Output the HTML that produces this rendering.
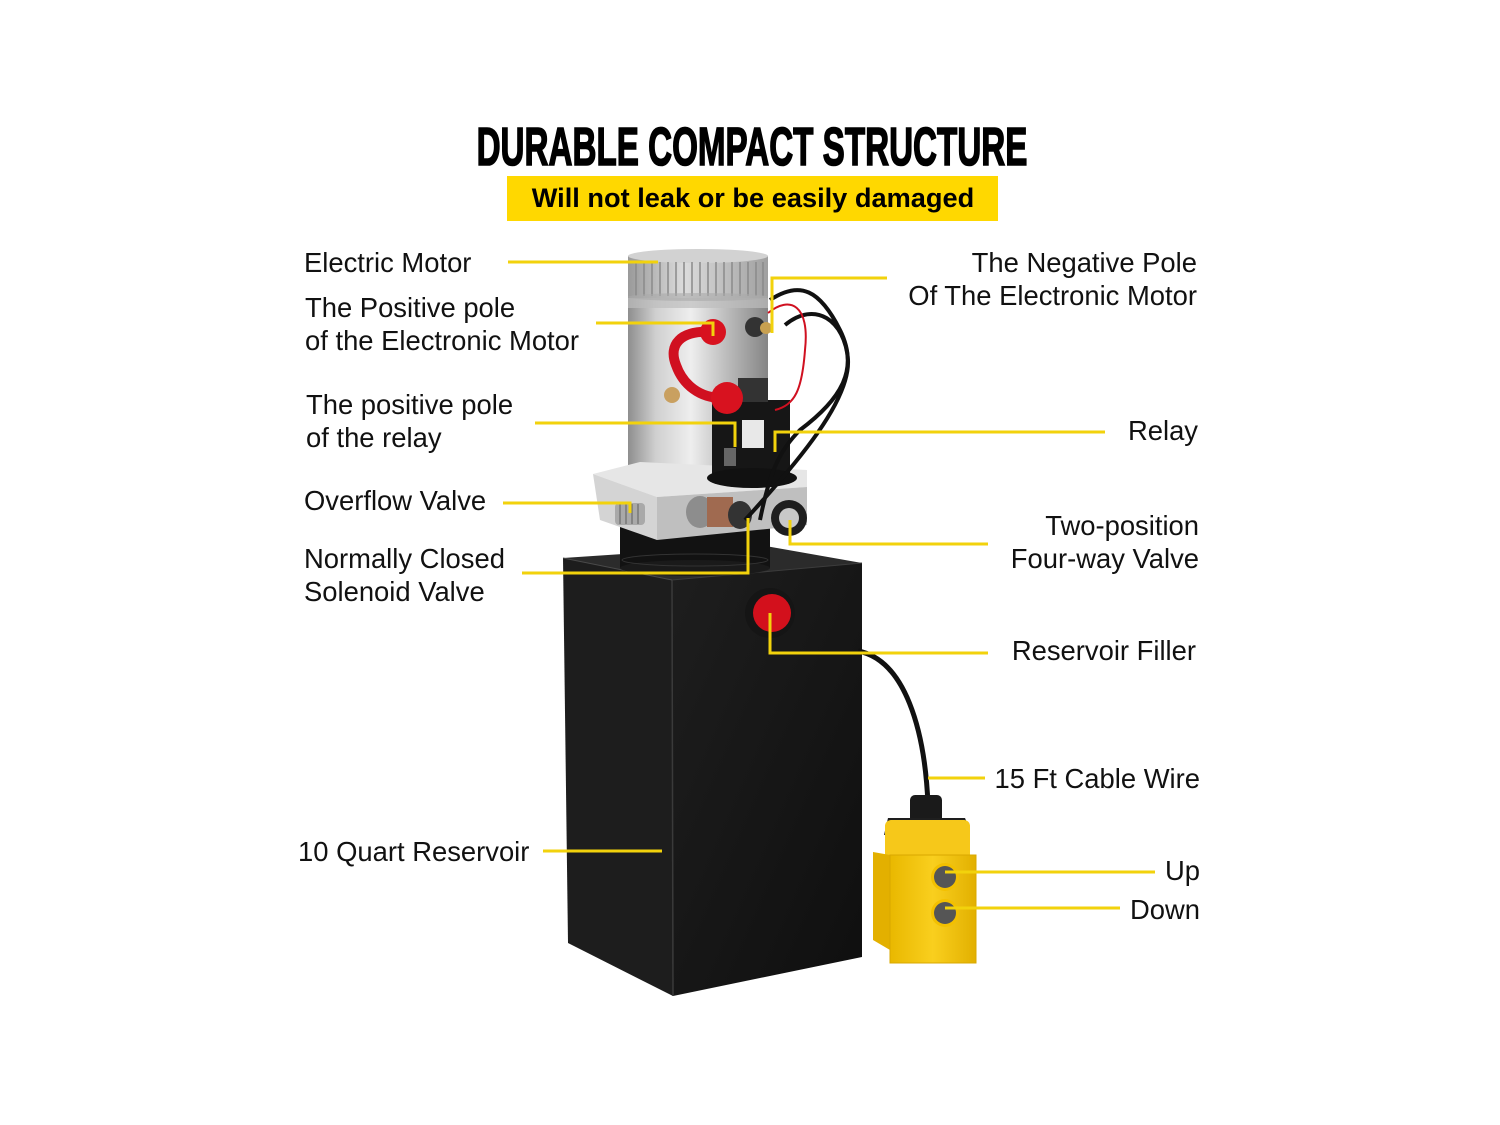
<!DOCTYPE html>
<html><head><meta charset="utf-8"><style>
html,body{margin:0;padding:0;background:#fff;}
svg{display:block;}
text{font-family:"Liberation Sans",Arial,sans-serif;fill:#111;}
</style></head><body>
<svg width="1500" height="1125" viewBox="0 0 1500 1125" xmlns="http://www.w3.org/2000/svg">
<defs>
<linearGradient id="cyl" x1="0" x2="1" y1="0" y2="0">
<stop offset="0" stop-color="#8e8e8e"/><stop offset="0.2" stop-color="#d0d0d0"/><stop offset="0.45" stop-color="#eeeeee"/><stop offset="0.7" stop-color="#bdbdbd"/><stop offset="1" stop-color="#858585"/>
</linearGradient>
<linearGradient id="cap" x1="0" x2="1" y1="0" y2="0">
<stop offset="0" stop-color="#9a9a9a"/><stop offset="0.4" stop-color="#dcdcdc"/><stop offset="1" stop-color="#a0a0a0"/>
</linearGradient>
<linearGradient id="rface" x1="0" x2="1" y1="0" y2="1">
<stop offset="0" stop-color="#1e1e1e"/><stop offset="1" stop-color="#0f0f0f"/>
</linearGradient>
<linearGradient id="yel" x1="0" x2="1" y1="0" y2="0">
<stop offset="0" stop-color="#e9b800"/><stop offset="0.5" stop-color="#f9cf1e"/><stop offset="1" stop-color="#e2b000"/>
</linearGradient>
</defs>

<!-- Title -->
<text x="752" y="165" text-anchor="middle" font-size="54" font-weight="bold" stroke="#000" stroke-width="1.6" transform="translate(752,0) scale(0.615,1) translate(-752,0)" style="fill:#000">DURABLE COMPACT STRUCTURE</text>
<rect x="507" y="176" width="491" height="45" fill="#ffd800"/>
<text x="753" y="207" text-anchor="middle" font-size="27.2" font-weight="bold" style="fill:#000">Will not leak or be easily damaged</text>

<!-- Reservoir box -->
<polygon points="563,558 760,545 862,563 672,580" fill="#2b2b2b"/>
<polygon points="563,558 672,580 673,996 568,943" fill="#1d1d1d"/>
<polygon points="672,580 862,563 862,957 673,996" fill="url(#rface)"/>
<line x1="672" y1="580" x2="673" y2="996" stroke="#3a3a3a" stroke-width="1.5"/>
<line x1="563" y1="558" x2="672" y2="580" stroke="#4a4a4a" stroke-width="1"/>
<line x1="672" y1="580" x2="862" y2="563" stroke="#3c3c3c" stroke-width="1"/>

<!-- black cylinder base -->
<rect x="620" y="520" width="150" height="48" fill="#121212"/>
<ellipse cx="695" cy="568" rx="75" ry="8" fill="#1a1a1a"/>
<ellipse cx="695" cy="560" rx="73" ry="6" fill="none" stroke="#333" stroke-width="1"/>

<!-- Motor body -->
<rect x="628" y="296" width="140" height="182" fill="url(#cyl)"/>
<ellipse cx="698" cy="478" rx="70" ry="9" fill="#9a9a9a"/>
<rect x="628" y="298" width="140" height="10" fill="#bdbdbd" opacity="0.7"/>
<!-- fin cap -->
<rect x="628" y="256" width="140" height="42" fill="url(#cap)"/>
<ellipse cx="698" cy="256" rx="70" ry="7" fill="#d2d2d2"/>
<g stroke="#8a8a8a" stroke-width="1.5">
<line x1="636" y1="262" x2="636" y2="296"/><line x1="644" y1="262" x2="644" y2="296"/><line x1="652" y1="262" x2="652" y2="296"/><line x1="660" y1="262" x2="660" y2="296"/><line x1="668" y1="262" x2="668" y2="296"/><line x1="676" y1="262" x2="676" y2="296"/><line x1="684" y1="262" x2="684" y2="296"/><line x1="692" y1="262" x2="692" y2="296"/><line x1="700" y1="262" x2="700" y2="296"/><line x1="708" y1="262" x2="708" y2="296"/><line x1="716" y1="262" x2="716" y2="296"/><line x1="724" y1="262" x2="724" y2="296"/><line x1="732" y1="262" x2="732" y2="296"/><line x1="740" y1="262" x2="740" y2="296"/><line x1="748" y1="262" x2="748" y2="296"/><line x1="756" y1="262" x2="756" y2="296"/><line x1="763" y1="262" x2="763" y2="296"/>
</g>
<ellipse cx="698" cy="297" rx="70" ry="4" fill="#aaa" opacity="0.6"/>

<!-- Base block -->
<polygon points="593,474 640,462 807,470 807,487 657,497" fill="#e6e6e6"/>
<polygon points="593,474 657,497 657,540 600,520" fill="#d4d4d4"/>
<polygon points="657,497 807,487 807,525 657,540" fill="#bfbfbf"/>
<!-- overflow valve -->
<rect x="615" y="503" width="30" height="22" rx="4" fill="#a9a9a9"/>
<g stroke="#777" stroke-width="1.5"><line x1="620" y1="504" x2="620" y2="524"/><line x1="626" y1="504" x2="626" y2="524"/><line x1="632" y1="504" x2="632" y2="524"/><line x1="638" y1="504" x2="638" y2="524"/></g>
<!-- solenoid valve -->
<ellipse cx="700" cy="512" rx="14" ry="16" fill="#8d8d8d"/>
<rect x="707" y="497" width="26" height="30" fill="#a06a50"/>
<ellipse cx="740" cy="515" rx="12" ry="14" fill="#333"/>
<!-- four-way valve -->
<circle cx="789" cy="518" r="18" fill="#1e1e1e"/>
<circle cx="789" cy="518" r="10" fill="#c8c8c8"/>

<!-- Relay -->
<rect x="712" y="400" width="78" height="75" fill="#161616"/>
<ellipse cx="752" cy="478" rx="45" ry="10" fill="#111"/>
<rect x="742" y="420" width="22" height="28" fill="#e8e8e8"/>
<rect x="738" y="378" width="30" height="24" fill="#333"/>
<rect x="724" y="448" width="12" height="18" fill="#666"/>

<!-- Red boots -->
<path d="M712 332 C680 330 668 345 676 365 C683 385 700 398 722 398" fill="none" stroke="#d01020" stroke-width="10" stroke-linecap="round"/>
<circle cx="713" cy="332" r="13" fill="#d8121f"/>
<circle cx="727" cy="398" r="16" fill="#d8121f"/>
<circle cx="672" cy="395" r="8" fill="#c9a060"/>
<!-- negative terminal -->
<circle cx="755" cy="327" r="10" fill="#333"/>
<circle cx="766" cy="328" r="6" fill="#c8a050"/>

<!-- Wires -->
<path d="M770 300 C800 280 820 290 840 330 C860 370 840 400 800 430 C780 450 770 470 760 520" fill="none" stroke="#111" stroke-width="4"/>
<path d="M785 325 C815 300 845 320 848 360 C850 400 800 460 745 520" fill="none" stroke="#111" stroke-width="4"/>
<path d="M768 313 C790 295 810 305 805 350 C802 390 795 405 775 410" fill="none" stroke="#d01020" stroke-width="2"/>

<!-- Filler cap -->
<circle cx="770" cy="613" r="25" fill="#151515"/>
<circle cx="772" cy="613" r="19" fill="#d3101c"/>

<!-- Cable -->
<path d="M858 651 C905 660 925 730 928 805" fill="none" stroke="#111" stroke-width="5"/>

<!-- Pendant -->
<rect x="910" y="795" width="32" height="32" rx="5" fill="#1a1a1a"/>
<path d="M884 835 L888 818 L965 818 L970 830 Z" fill="#1e1e1e"/>
<rect x="885" y="820" width="85" height="90" rx="6" fill="#f6c81a"/>
<polygon points="873,852 890,855 890,950 873,940" fill="#e3b000"/>
<rect x="890" y="855" width="86" height="108" fill="url(#yel)"/>
<rect x="890" y="855" width="86" height="108" fill="none" stroke="#d9a800" stroke-width="1"/>
<circle cx="945" cy="877" r="14" fill="#f3c000"/>
<circle cx="945" cy="877" r="11" fill="#555"/>
<circle cx="945" cy="913" r="14" fill="#f3c000"/>
<circle cx="945" cy="913" r="11" fill="#555"/>

<!-- Leader lines -->
<g stroke="#f2d20c" stroke-width="3" fill="none">
<polyline points="508,262 658,262"/>
<polyline points="596,323 713,323 713,336"/>
<polyline points="887,278 772,278 772,333"/>
<polyline points="535,423 735,423 735,447"/>
<polyline points="1105,432 775,432 775,452"/>
<polyline points="503,503 630,503 630,513"/>
<polyline points="988,544 790,544 790,520"/>
<polyline points="522,573 748,573 748,518"/>
<polyline points="988,653 770,653 770,613"/>
<polyline points="928,778 985,778"/>
<polyline points="543,851 662,851"/>
<polyline points="945,872 1155,872"/>
<polyline points="945,908 1120,908"/>
</g>

<!-- Left labels -->
<g font-size="27.4">
<text x="304" y="272">Electric Motor</text>
<text x="305" y="317">The Positive pole</text>
<text x="305" y="350">of the Electronic Motor</text>
<text x="306" y="414">The positive pole</text>
<text x="306" y="447">of the relay</text>
<text x="304" y="510">Overflow Valve</text>
<text x="304" y="568">Normally Closed</text>
<text x="304" y="601">Solenoid Valve</text>
<text x="298" y="861">10 Quart Reservoir</text>
</g>
<!-- Right labels -->
<g font-size="27.4" text-anchor="end">
<text x="1197" y="272">The Negative Pole</text>
<text x="1197" y="305">Of The Electronic Motor</text>
<text x="1198" y="440">Relay</text>
<text x="1199" y="535">Two-position</text>
<text x="1199" y="568">Four-way Valve</text>
<text x="1196" y="660">Reservoir Filler</text>
<text x="1200" y="788">15 Ft Cable Wire</text>
<text x="1200" y="880">Up</text>
<text x="1200" y="919">Down</text>
</g>
</svg>
</body></html>
